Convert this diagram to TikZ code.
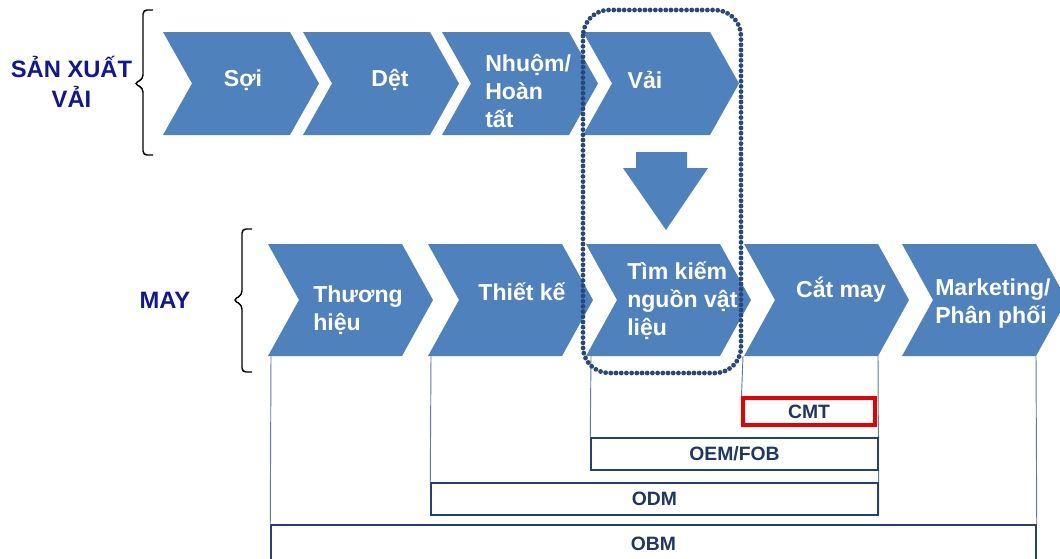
\documentclass[tikz,border=0pt]{standalone}
\usepackage{fontspec}
\setmainfont{Liberation Sans}

\definecolor{chevblue}{RGB}{79,129,189}
\definecolor{ringblue}{RGB}{40,72,125}
\definecolor{navylabel}{RGB}{16,22,150}
\definecolor{boxline}{RGB}{35,65,115}
\definecolor{boxtext}{RGB}{30,55,100}
\definecolor{linkline}{RGB}{95,120,160}
\definecolor{cmtred}{RGB}{232,0,0}

% #1 left x, #2 top y, #3 bottom y, #4 top edge length, #5 point depth
\newcommand\chevronat[5]{%
  \fill[chev] (#1,#2) -- (#1+#4,#2) -- (#1+#4+#5,{(#2+#3)/2}) -- (#1+#4,#3)
    -- (#1,#3) -- (#1+#5,{(#2+#3)/2}) -- cycle;}

\tikzset{
  chev/.style={fill=chevblue},
  chevtext/.style={text=white, font=\bfseries\fontsize{17.3}{21}\selectfont, inner sep=0pt, align=left},
  sidelabel/.style={text=navylabel, font=\bfseries\fontsize{17.8}{22.5}\selectfont, align=center, inner sep=0pt},
  tier/.style={draw=boxline, line width=1.1pt, rectangle, inner sep=0pt, text=boxtext,
    font=\bfseries\fontsize{14.5}{17}\selectfont},
  link/.style={draw=linkline, line width=0.7pt},
  brace/.style={draw=black, line width=1.1pt, rounded corners=3pt},
  ring/.style={draw=ringblue, line width=3.6pt, line cap=round, dash pattern=on 0pt off 3.9pt, rounded corners=19.5pt},
}

\begin{document}
\begin{tikzpicture}[x=0.75pt, y=-0.75pt]
\useasboundingbox (0,0) rectangle (1060,558);
\clip (0,0) rectangle (1060,558);

% side labels and braces
\node[sidelabel] (fabric) at (71.5,82) {SẢN XUẤT\\VẢI};
\node[sidelabel] (garment) at (165,300) {MAY};
\draw[brace] (153,10) -- (143,10) -- (143,79) -- (134,83.5) -- (143,88) -- (143,155) -- (153,155);
\draw[brace] (252,229) -- (242,229) -- (242,295) -- (233,300) -- (242,305) -- (242,372) -- (252,372);

% fabric production chain
\chevronat{163}{32}{135}{127}{29}
\chevronat{303}{32}{135}{127}{29}
\chevronat{442}{32}{135}{127}{29}
\chevronat{583}{32}{135}{127}{29}
\node[chevtext] (soi) at (243,80) {Sợi};
\node[chevtext] (det) at (390,80) {Dệt};
\node[chevtext, anchor=west] (nhuom) at (485,91) {Nhuộm/\\Hoàn\\tất};
\node[chevtext] (vai) at (645,80) {Vải};

% flow from fabric to sourcing
\fill[chev] (636,152) -- (687,152) -- (687,168) -- (708,168) -- (666,230)
  -- (623,168) -- (636,168) -- cycle;

% garment chain
\chevronat{268}{244}{356}{134}{31}
\chevronat{428}{244}{356}{134}{31}
\chevronat{586}{244}{356}{134}{31}
\chevronat{744}{244}{356}{134}{31}
\chevronat{902}{244}{356}{134}{31}
\node[chevtext, anchor=west] (brand) at (313,310) {Thương\\hiệu};
\node[chevtext] (design) at (522,292) {Thiết kế};
\node[chevtext, anchor=west] (source) at (627,301) {Tìm kiếm\\nguồn vật\\liệu};
\node[chevtext] (sew) at (841,290) {Cắt may};
\node[chevtext, anchor=west] (market) at (935,304) {Marketing/\\Phân phối};

% business model tiers
\node[tier, draw=cmtred, line width=2.3pt, minimum width=99pt, minimum height=20.25pt] (cmt) at (809,411.5) {CMT};
\node[tier, minimum width=215.25pt, minimum height=24pt] (oem) at (734.5,454) {OEM/FOB};
\node[tier, minimum width=335.25pt, minimum height=24pt] (odm) at (654.5,499) {ODM};
\node[tier, minimum width=573.75pt, minimum height=28.5pt] (obm) at (653.5,544) {OBM};

% stage feet
\coordinate (brand-foot) at (271,356);
\coordinate (design-foot) at (431,356);
\coordinate (source-foot) at (591,356);
\coordinate (sew-foot) at (743,356);
\coordinate (sew-end) at (878,356);
\coordinate (market-end) at (1036,356);

\draw[link] (brand-foot) -- (obm.north west);
\draw[link] (design-foot) -- (odm.north west);
\draw[link] (source-foot) -- (oem.north west);
\draw[link] (sew-foot) -- (cmt.north west);
\draw[link] (sew-end) -- (odm.south east);
\draw[link] (market-end) -- (obm.north east);

% redraw tier outlines over the links
\node[tier, draw=cmtred, line width=2.3pt, minimum width=99pt, minimum height=20.25pt] at (cmt) {};
\node[tier, minimum width=215.25pt, minimum height=24pt] at (oem) {};
\node[tier, minimum width=335.25pt, minimum height=24pt] at (odm) {};

% highlighted fabric sourcing link
\draw[ring] (583,10) rectangle (741,373);
\end{tikzpicture}
\end{document}
